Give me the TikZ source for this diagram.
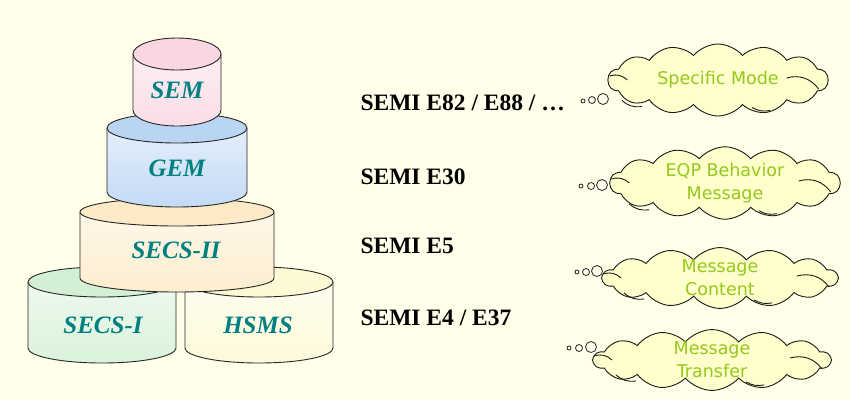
\documentclass[tikz,border=0pt]{standalone}
\usepackage{fontspec}
\setmainfont{Liberation Serif}
\newfontfamily\cloudfont{DejaVu Sans}
\usepackage{tikz}
\usetikzlibrary{
    shapes.symbols,
    positioning
}

\definecolor{bgcream}{RGB}{255,255,234}
\definecolor{cloudfill}{RGB}{255,255,204}
\definecolor{leafgreen}{RGB}{148,200,30}
\definecolor{labelteal}{RGB}{0,128,128}
\definecolor{sempink}{RGB}{249,214,226}
\definecolor{gemblue}{RGB}{186,212,244}
\definecolor{secsorange}{RGB}{252,234,198}
\definecolor{secsgreen}{RGB}{212,240,212}
\definecolor{hsmsyellow}{RGB}{253,249,212}

% drum: cx, top y, bottom y, x radius, y radius, colour
\newcommand{\drum}[6]{%
    \shade[top color=#6!40, middle color=white, bottom color=#6!85]
        (#1-#4,#2) -- (#1-#4,#3) arc[start angle=180, end angle=360, x radius=#4pt, y radius=#5pt]
        -- (#1+#4,#2) -- cycle;
    \draw[black!85, line width=0.9pt]
        (#1-#4,#2) -- (#1-#4,#3) arc[start angle=180, end angle=360, x radius=#4pt, y radius=#5pt]
        -- (#1+#4,#2);
    \filldraw[fill=#6, draw=black!85, line width=0.9pt]
        (#1,#2) ellipse[x radius=#4pt, y radius=#5pt];
}

% little strokes inside a cloud
\newcommand{\puffs}[1]{%
    \draw[puffline] ([shift={(2,-4)}]#1.west) to[bend left=30] ([shift={(20,0)}]#1.west);
    \draw[puffline] ([shift={(-96,-16)}]#1.south) to[bend right=25] ([shift={(-76,-10)}]#1.south);
    \draw[puffline] ([shift={(-42,-2)}]#1.east) to[bend left=35] ([shift={(-10,9)}]#1.east);
    \draw[puffline] ([shift={(34,-9)}]#1.south) to[bend right=20] ([shift={(52,-6)}]#1.south);
}

\tikzset{
    drumlabel/.style={text=labelteal, font=\fontsize{25}{25}\selectfont\bfseries\itshape},
    semi/.style={anchor=west, font=\fontsize{23.5}{23.5}\selectfont\bfseries},
    thought/.style={cloud, cloud puffs=14, cloud puff arc=100, cloud ignores aspect,
        draw=black!90, line width=0.9pt, fill=cloudfill, text=leafgreen, align=center,
        inner sep=0pt, font=\cloudfont\fontsize{17.5}{23}\selectfont},
    puffline/.style={black!90, line width=0.9pt},
    bubble/.style={circle, draw=black!85, line width=0.8pt, fill=bgcream, inner sep=0pt}
}

\begin{document}
\begin{tikzpicture}[x=1pt, y=-1pt]
    \fill[bgcream] (0,0) rectangle (850,400);
    \useasboundingbox (0,0) rectangle (850,400);

    % the stack
    \drum{102}{282}{348}{74}{15}{secsgreen}
    \drum{259}{282}{348}{74}{15}{hsmsyellow}
    \drum{177}{212}{278}{97}{14}{secsorange}
    \drum{177}{128}{192}{70}{15}{gemblue}
    \drum{177}{54}{110}{44}{16}{sempink}

    \node[drumlabel] (sem) at (177,90) {SEM};
    \node[drumlabel] (gem) at (177,168) {GEM};
    \node[drumlabel] (secsii) at (176,250) {SECS-II};
    \node[drumlabel] (secsi) at (103,325) {SECS-I};
    \node[drumlabel] (hsms) at (258,325) {HSMS};

    % standards
    \node[semi] (e82) at (357,103) {SEMI E82 / E88 / \dots};
    \node[semi] (e30) at (357,177) {SEMI E30};
    \node[semi] (e5) at (357,246) {SEMI E5};
    \node[semi] (e4) at (357,318) {SEMI E4 / E37};

    % thoughts
    \node[thought, minimum width=220pt, minimum height=72pt] (mode) at (718,80) {Specific Mode};
    \node[thought, minimum width=230pt, minimum height=66pt] (behav) at (725,183) {EQP Behavior\\Message};
    \node[thought, minimum width=235pt, minimum height=56pt] (content) at (720,278) {Message\\Content};
    \node[thought, minimum width=237pt, minimum height=56pt] (transfer) at (712,360) {Message\\Transfer};
    \puffs{mode}
    \puffs{behav}
    \puffs{content}
    \puffs{transfer}

    \node[bubble, minimum size=4pt] (m1) at (583,101) {};
    \node[bubble, minimum size=7pt] (m2) at (592,100) {};
    \node[bubble, minimum size=11pt] (m3) at (603,99) {};
    \node[bubble, minimum size=4pt] (b1) at (581,186) {};
    \node[bubble, minimum size=7pt] (b2) at (591,186) {};
    \node[bubble, minimum size=11pt] (b3) at (602,185) {};
    \node[bubble, minimum size=4pt] (c1) at (577,272) {};
    \node[bubble, minimum size=7pt] (c2) at (586,272) {};
    \node[bubble, minimum size=11pt] (c3) at (597,271) {};
    \node[bubble, minimum size=4pt] (t1) at (569,348) {};
    \node[bubble, minimum size=7pt] (t2) at (579,348) {};
    \node[bubble, minimum size=11pt] (t3) at (591,347) {};
\end{tikzpicture}
\end{document}
